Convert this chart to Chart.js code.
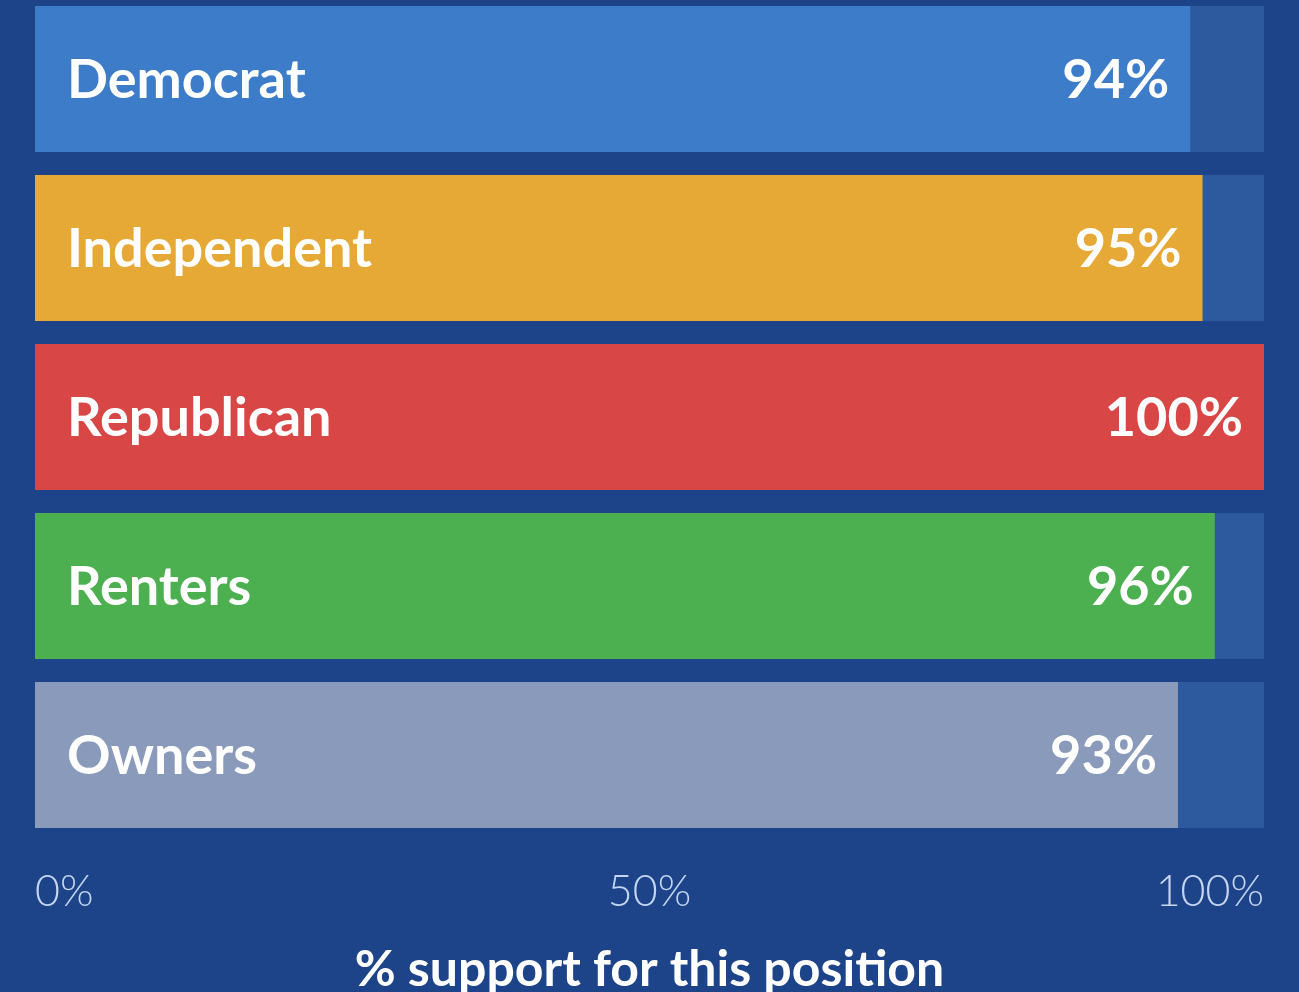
<!DOCTYPE html>
<html>
<head>
<meta charset="utf-8">
<script src="https://cdn.jsdelivr.net/npm/chart.js@4"></script>
<style>
  html, body { margin: 0; padding: 0; background: #1d4489; overflow: hidden; }
  .wrap { position: absolute; left: 0; top: -6px; width: 1299px; height: 1006px; }
</style>
</head>
<body>
<div class="wrap"><canvas id="myChart"></canvas></div>
<script>
// groups and their support share
var groups = ['Democrat', 'Independent', 'Republican', 'Renters', 'Owners'];
var support = [94, 95, 100, 96, 93];
var barColors = ['#3d7cc9', '#e6a936', '#d94646', '#4caf50', '#8a9aba'];
var axisMax = 100;
var tickLabels = { 0: '0%', 50: '50%', 100: '100%' };

// full-width track behind each bar
var track = groups.map(function() { return axisMax; });

// names on the left, values at the end of each bar
var barLabels = {
  id: 'barLabels',
  afterDatasetsDraw: function(chart) {
    var ctx = chart.ctx;
    var meta = chart.getDatasetMeta(0);
    ctx.save();
    ctx.fillStyle = '#ffffff';
    ctx.font = 'bold 54px Lato';
    ctx.textBaseline = 'middle';
    meta.data.forEach(function(bar, i) {
      ctx.textAlign = 'left';
      ctx.fillText(groups[i], chart.chartArea.left + 32, bar.y + 2);
      ctx.textAlign = 'right';
      ctx.fillText(support[i] + '%', bar.x - 21, bar.y + 2);
    });
    ctx.restore();
  }
};

var ctx = document.getElementById('myChart').getContext('2d');

var chart = new Chart(ctx, {
  type: 'bar',
  data: {
    labels: groups,
    datasets: [{
      label: 'Support',
      data: support,
      backgroundColor: barColors,
      order: 0,
      grouped: false,
      barPercentage: 1,
      categoryPercentage: 0.864
    },
    {
      label: 'Track',
      data: track,
      backgroundColor: '#2d5a9e',
      order: 1,
      grouped: false,
      barPercentage: 1,
      categoryPercentage: 0.864
    }]
  },
  options: {
    indexAxis: 'y',
    responsive: true,
    maintainAspectRatio: false,
    animation: false,
    layout: { padding: { left: 35, right: 35, top: 0.5, bottom: 0 } },
    plugins: {
      legend: { display: false },
      tooltip: { enabled: false }
    },
    scales: {
      y: { display: false },
      x: {
        min: 0,
        max: axisMax,
        grid: { display: false },
        border: { display: false },
        ticks: {
          stepSize: 50,
          align: 'inner',
          color: '#c5d6f2',
          padding: 19,
          font: { family: 'Lato', weight: '300', size: 43 },
          callback: function(v) { return tickLabels[v]; }
        },
        title: {
          display: true,
          text: '% support for this position',
          color: '#ffffff',
          padding: { top: 3, bottom: 0 },
          font: { family: 'Lato', weight: 'bold', size: 50 }
        }
      }
    }
  },
  plugins: [barLabels]
});
</script>
</body>
</html>
